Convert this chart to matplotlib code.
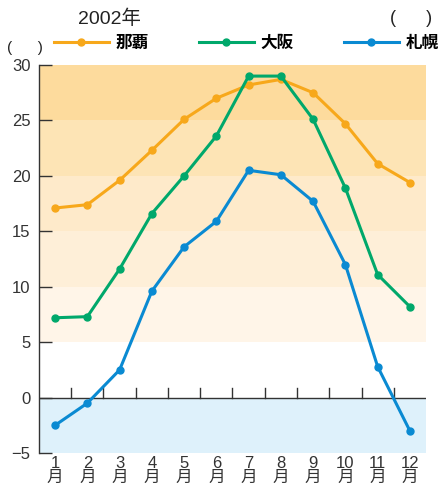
import matplotlib
matplotlib.use("Agg")
import matplotlib.pyplot as plt
from matplotlib.lines import Line2D

plt.rcParams['font.family'] = ['Liberation Sans', 'Noto Sans CJK JP', 'DejaVu Sans']

# 2002年 月平均気温
months = list(range(1, 13))
month_labels = [f"{m}\n月" for m in months]
naha = [17.1, 17.4, 19.6, 22.3, 25.1, 27.0, 28.2, 28.7, 27.5, 24.7, 21.1, 19.4]
osaka = [7.2, 7.3, 11.6, 16.6, 20.0, 23.6, 29.0, 29.0, 25.1, 18.9, 11.1, 8.2]
sapporo = [-2.5, -0.5, 2.5, 9.6, 13.6, 15.9, 20.5, 20.1, 17.7, 12.0, 2.8, -3.0]
series = [("那覇", naha, "#f7a81b"), ("大阪", osaka, "#00a86b"), ("札幌", sapporo, "#0a8ad2")]

# 背景の帯
bands = [(25, 30, "#fddb9d"), (20, 25, "#fde4b5"), (15, 20, "#feeaca"),
         (10, 15, "#feefd8"), (5, 10, "#fff5e8"), (-5, 0, "#def1fb")]

fig = plt.figure(figsize=(4.41, 4.88), dpi=100)
ax = fig.add_axes([0.0884, 0.0717, 0.8776, 0.7951])

for lo, hi, c in bands:
    ax.axhspan(lo, hi, color=c, lw=0, zorder=0)

ax.axhline(0, color="#333333", lw=1.0, zorder=1)
# 月の区切り目盛り (0の線上)
for b in range(1, 12):
    ax.plot([b + 0.5, b + 0.5], [0, 0.9], color="#333333", lw=1.0, zorder=1)

for name, vals, c in series:
    ax.plot(months, vals, color=c, lw=2.2, marker="o", ms=5, zorder=3)

ax.set_xlim(0.5, 12.5)
ax.set_ylim(-5, 30)
ax.set_yticks(range(-5, 31, 5))
ax.set_xticks(months)
ax.set_xticklabels(month_labels, fontsize=12, color="#333333", linespacing=0.95)
ax.tick_params(axis="x", length=0, pad=2)
ax.tick_params(axis="y", direction="in", length=9, width=1.0, color="#333333",
               labelsize=12, labelcolor="#333333", pad=6)
for s in ["top", "right", "bottom"]:
    ax.spines[s].set_visible(False)
ax.spines["left"].set_color("#333333")
ax.spines["left"].set_linewidth(1.0)

handles = [Line2D([], [], color=c, lw=2.2, marker="o", ms=5) for _, _, c in series]
fig.legend(handles, [n for n, _, _ in series], ncol=3, loc="center left",
           bbox_to_anchor=(0.122, 0.912), frameon=False, handlelength=3.3,
           columnspacing=3.0, handletextpad=0.4, borderpad=0, borderaxespad=0,
           prop={"size": 12, "weight": "bold"})

fig.text(0.177, 0.962, "2002年", fontsize=14, color="#222222", va="center")
fig.text(0.885, 0.962, "(      )", fontsize=13, color="#222222", va="center")
fig.text(0.015, 0.901, "(      )", fontsize=11, color="#222222", va="center")

fig.savefig("out.png", dpi=100)
